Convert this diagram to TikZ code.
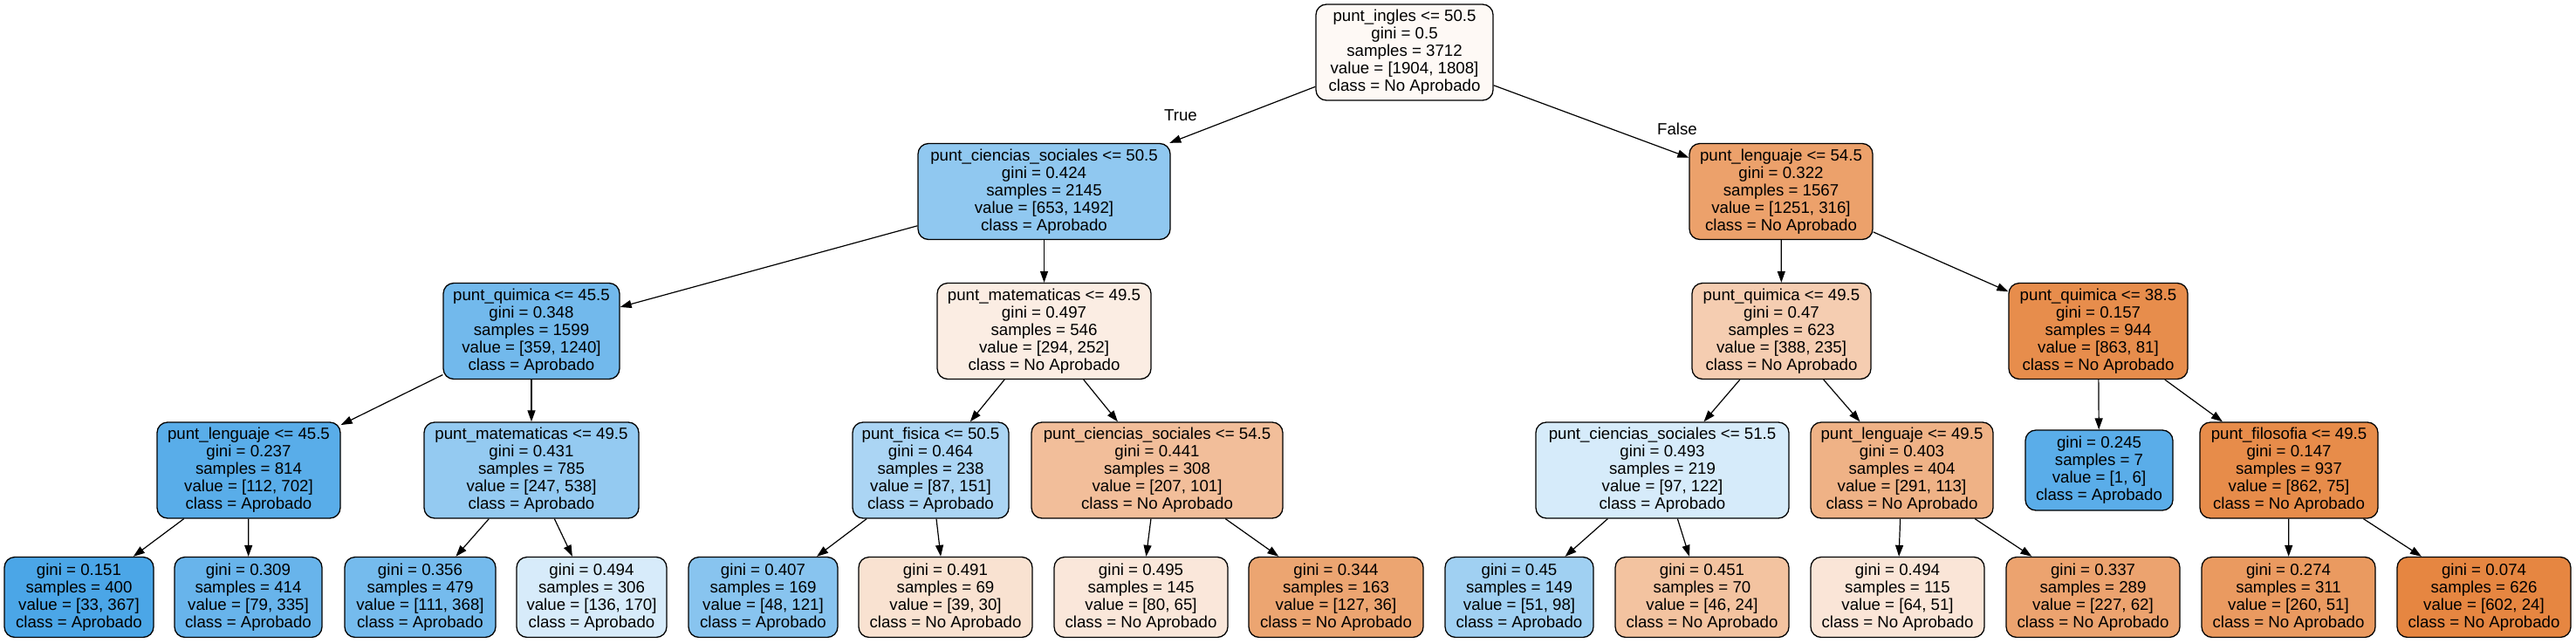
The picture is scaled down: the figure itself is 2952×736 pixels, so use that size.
\documentclass[tikz,border=0pt]{standalone}
\usepackage{fontspec}
\setmainfont{Liberation Sans}
\usetikzlibrary{arrows.meta}
\definecolor{cR}{RGB}{254,249,245}
\definecolor{cA}{RGB}{144,200,240}
\definecolor{cB}{RGB}{236,161,107}
\definecolor{cC}{RGB}{114,185,236}
\definecolor{cD}{RGB}{251,237,227}
\definecolor{cE}{RGB}{245,205,177}
\definecolor{cF}{RGB}{231,141,76}
\definecolor{cG}{RGB}{89,173,233}
\definecolor{cH}{RGB}{148,202,241}
\definecolor{cI}{RGB}{171,213,244}
\definecolor{cJ}{RGB}{242,190,154}
\definecolor{cK}{RGB}{214,235,250}
\definecolor{cL}{RGB}{239,178,134}
\definecolor{cM}{RGB}{90,173,233}
\definecolor{cN}{RGB}{231,140,74}
\definecolor{lA}{RGB}{75,166,231}
\definecolor{lB}{RGB}{104,180,235}
\definecolor{lC}{RGB}{117,187,237}
\definecolor{lD}{RGB}{215,235,250}
\definecolor{lE}{RGB}{136,196,239}
\definecolor{lF}{RGB}{249,226,209}
\definecolor{lG}{RGB}{250,231,218}
\definecolor{lH}{RGB}{236,165,113}
\definecolor{lI}{RGB}{160,208,242}
\definecolor{lJ}{RGB}{243,195,160}
\definecolor{lK}{RGB}{250,229,215}
\definecolor{lL}{RGB}{236,163,111}
\definecolor{lM}{RGB}{234,154,96}
\definecolor{lN}{RGB}{230,134,65}
\tikzset{
  tn/.style={draw=black, rounded corners=12pt, line width=1.3pt, inner sep=0pt,
    align=center, font=\fontsize{18.67pt}{20pt}\selectfont, minimum height=110pt},
  lf/.style={tn, minimum height=92pt},
  edge/.style={line width=1.2pt, -{Triangle[length=13pt,width=9pt]}},
  elab/.style={font=\fontsize{18.67pt}{20pt}\selectfont, inner sep=0pt}
}
\begin{document}
\begin{tikzpicture}[x=1pt,y=-1pt]
\fill[white] (0,0) rectangle (2952,736);
\useasboundingbox (0,0) rectangle (2952,736);
% level 0
\node[tn, fill=cR, minimum width=203pt] (n0) at (1609.5,60) {punt\_ingles <= 50.5\\gini = 0.5\\samples = 3712\\value = [1904, 1808]\\class = No Aprobado};
% level 1
\node[tn, fill=cA, minimum width=289pt] (n1) at (1196.5,219.5) {punt\_ciencias\_sociales <= 50.5\\gini = 0.424\\samples = 2145\\value = [653, 1492]\\class = Aprobado};
\node[tn, fill=cB, minimum width=210pt] (n2) at (2041,219.5) {punt\_lenguaje <= 54.5\\gini = 0.322\\samples = 1567\\value = [1251, 316]\\class = No Aprobado};
% level 2
\node[tn, fill=cC, minimum width=202pt] (n3) at (609,379.5) {punt\_quimica <= 45.5\\gini = 0.348\\samples = 1599\\value = [359, 1240]\\class = Aprobado};
\node[tn, fill=cD, minimum width=245pt] (n4) at (1196.5,379.5) {punt\_matematicas <= 49.5\\gini = 0.497\\samples = 546\\value = [294, 252]\\class = No Aprobado};
\node[tn, fill=cE, minimum width=205pt] (n5) at (2041.5,379.5) {punt\_quimica <= 49.5\\gini = 0.47\\samples = 623\\value = [388, 235]\\class = No Aprobado};
\node[tn, fill=cF, minimum width=205pt] (n6) at (2404.5,379.5) {punt\_quimica <= 38.5\\gini = 0.157\\samples = 944\\value = [863, 81]\\class = No Aprobado};
% level 3
\node[tn, fill=cG, minimum width=210pt] (n7) at (285,539) {punt\_lenguaje <= 45.5\\gini = 0.237\\samples = 814\\value = [112, 702]\\class = Aprobado};
\node[tn, fill=cH, minimum width=246pt] (n8) at (609,539) {punt\_matematicas <= 49.5\\gini = 0.431\\samples = 785\\value = [247, 538]\\class = Aprobado};
\node[tn, fill=cI, minimum width=179pt] (n9) at (1066.5,539) {punt\_fisica <= 50.5\\gini = 0.464\\samples = 238\\value = [87, 151]\\class = Aprobado};
\node[tn, fill=cJ, minimum width=288pt] (n10) at (1326,539) {punt\_ciencias\_sociales <= 54.5\\gini = 0.441\\samples = 308\\value = [207, 101]\\class = No Aprobado};
\node[tn, fill=cK, minimum width=290pt] (n11) at (1905,539) {punt\_ciencias\_sociales <= 51.5\\gini = 0.493\\samples = 219\\value = [97, 122]\\class = Aprobado};
\node[tn, fill=cL, minimum width=209pt] (n12) at (2179.5,539) {punt\_lenguaje <= 49.5\\gini = 0.403\\samples = 404\\value = [291, 113]\\class = No Aprobado};
\node[lf, fill=cM, minimum width=169pt] (n13) at (2405.5,539) {gini = 0.245\\samples = 7\\value = [1, 6]\\class = Aprobado};
\node[tn, fill=cN, minimum width=204pt] (n14) at (2623,539) {punt\_filosofia <= 49.5\\gini = 0.147\\samples = 937\\value = [862, 75]\\class = No Aprobado};
% level 4 (leaves)
\node[lf, fill=lA, minimum width=171pt] (f1) at (90.5,684.5) {gini = 0.151\\samples = 400\\value = [33, 367]\\class = Aprobado};
\node[lf, fill=lB, minimum width=169pt] (f2) at (284.5,684.5) {gini = 0.309\\samples = 414\\value = [79, 335]\\class = Aprobado};
\node[lf, fill=lC, minimum width=173pt] (f3) at (481.5,684.5) {gini = 0.356\\samples = 479\\value = [111, 368]\\class = Aprobado};
\node[lf, fill=lD, minimum width=172pt] (f4) at (678,684.5) {gini = 0.494\\samples = 306\\value = [136, 170]\\class = Aprobado};
\node[lf, fill=lE, minimum width=171pt] (f5) at (874.5,684.5) {gini = 0.407\\samples = 169\\value = [48, 121]\\class = Aprobado};
\node[lf, fill=lF, minimum width=199pt] (f6) at (1083.5,684.5) {gini = 0.491\\samples = 69\\value = [39, 30]\\class = No Aprobado};
\node[lf, fill=lG, minimum width=199pt] (f7) at (1307.5,684.5) {gini = 0.495\\samples = 145\\value = [80, 65]\\class = No Aprobado};
\node[lf, fill=lH, minimum width=200pt] (f8) at (1531,684.5) {gini = 0.344\\samples = 163\\value = [127, 36]\\class = No Aprobado};
\node[lf, fill=lI, minimum width=170pt] (f9) at (1741,684.5) {gini = 0.45\\samples = 149\\value = [51, 98]\\class = Aprobado};
\node[lf, fill=lJ, minimum width=199pt] (f10) at (1950.5,684.5) {gini = 0.451\\samples = 70\\value = [46, 24]\\class = No Aprobado};
\node[lf, fill=lK, minimum width=199pt] (f11) at (2174.5,684.5) {gini = 0.494\\samples = 115\\value = [64, 51]\\class = No Aprobado};
\node[lf, fill=lL, minimum width=199pt] (f12) at (2398.5,684.5) {gini = 0.337\\samples = 289\\value = [227, 62]\\class = No Aprobado};
\node[lf, fill=lM, minimum width=199pt] (f13) at (2622.5,684.5) {gini = 0.274\\samples = 311\\value = [260, 51]\\class = No Aprobado};
\node[lf, fill=lN, minimum width=199pt] (f14) at (2846.5,684.5) {gini = 0.074\\samples = 626\\value = [602, 24]\\class = No Aprobado};
% edges
\draw[edge] (n0) -- (n1);
\draw[edge] (n0) -- (n2);
\draw[edge] (n1) -- (n3);
\draw[edge] (n1) -- (n4);
\draw[edge] (n2) -- (n5);
\draw[edge] (n2) -- (n6);
\draw[edge] (n3) -- (n7);
\draw[edge] (n3) -- (n8);
\draw[edge] (n4) -- (n9);
\draw[edge] (n4) -- (n10);
\draw[edge] (n5) -- (n11);
\draw[edge] (n5) -- (n12);
\draw[edge] (n6) -- (n13);
\draw[edge] (n6) -- (n14);
\draw[edge] (n7) -- (f1);
\draw[edge] (n7) -- (f2);
\draw[edge] (n8) -- (f3);
\draw[edge] (n8) -- (f4);
\draw[edge] (n9) -- (f5);
\draw[edge] (n9) -- (f6);
\draw[edge] (n10) -- (f7);
\draw[edge] (n10) -- (f8);
\draw[edge] (n11) -- (f9);
\draw[edge] (n11) -- (f10);
\draw[edge] (n12) -- (f11);
\draw[edge] (n12) -- (f12);
\draw[edge] (n14) -- (f13);
\draw[edge] (n14) -- (f14);
% edge labels
\node[elab] (tTrue) at (1353,132) {True};
\node[elab] (tFalse) at (1922,148) {False};
\end{tikzpicture}
\end{document}
